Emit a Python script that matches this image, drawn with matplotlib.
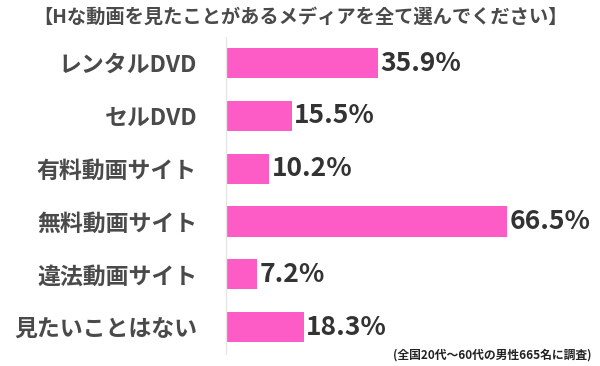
import matplotlib
matplotlib.use("Agg")
import matplotlib.pyplot as plt

plt.rcParams['font.family'] = ['Noto Sans CJK JP', 'DejaVu Sans']

# data
categories = ["レンタルDVD", "セルDVD", "有料動画サイト", "無料動画サイト", "違法動画サイト", "見たいことはない"]
values = [35.9, 15.5, 10.2, 66.5, 7.2, 18.3]
title = "【Hな動画を見たことがあるメディアを全て選んでください】"
note = "(全国20代～60代の男性665名に調査)"

fig = plt.figure(figsize=(6, 3.66), dpi=100)
ax = fig.add_axes([0.377, 0.034, 0.623, 0.866])

pos = list(range(len(categories)))
ax.barh(pos, values, height=0.57, color="#fd5bc6")
ax.set_ylim(len(categories) - 0.5, -0.5)
ax.set_xlim(0, 88.4)

for p, v in zip(pos, values):
    ax.text(v + 0.6, p, f"{v}%", va="center", ha="left",
            fontsize=19, fontweight="bold", color="#333333")

ax.set_yticks(pos)
ax.set_yticklabels(categories, fontsize=16.5, fontweight="bold", color="#4a4a4a")
ax.tick_params(axis="y", length=0, pad=21)
ax.set_xticks([])
for s in ["top", "right", "bottom"]:
    ax.spines[s].set_visible(False)
ax.spines["left"].set_color("#e6e6e6")
ax.spines["left"].set_linewidth(1)

fig.text(0.5, 0.953, title, ha="center", va="center", fontsize=13.9,
         fontweight="bold", color="#4a4a4a")
fig.text(0.985, 0.03, note, ha="right", va="center", fontsize=8.5,
         fontweight="bold", color="#222222")

fig.savefig("out.png", dpi=100)
